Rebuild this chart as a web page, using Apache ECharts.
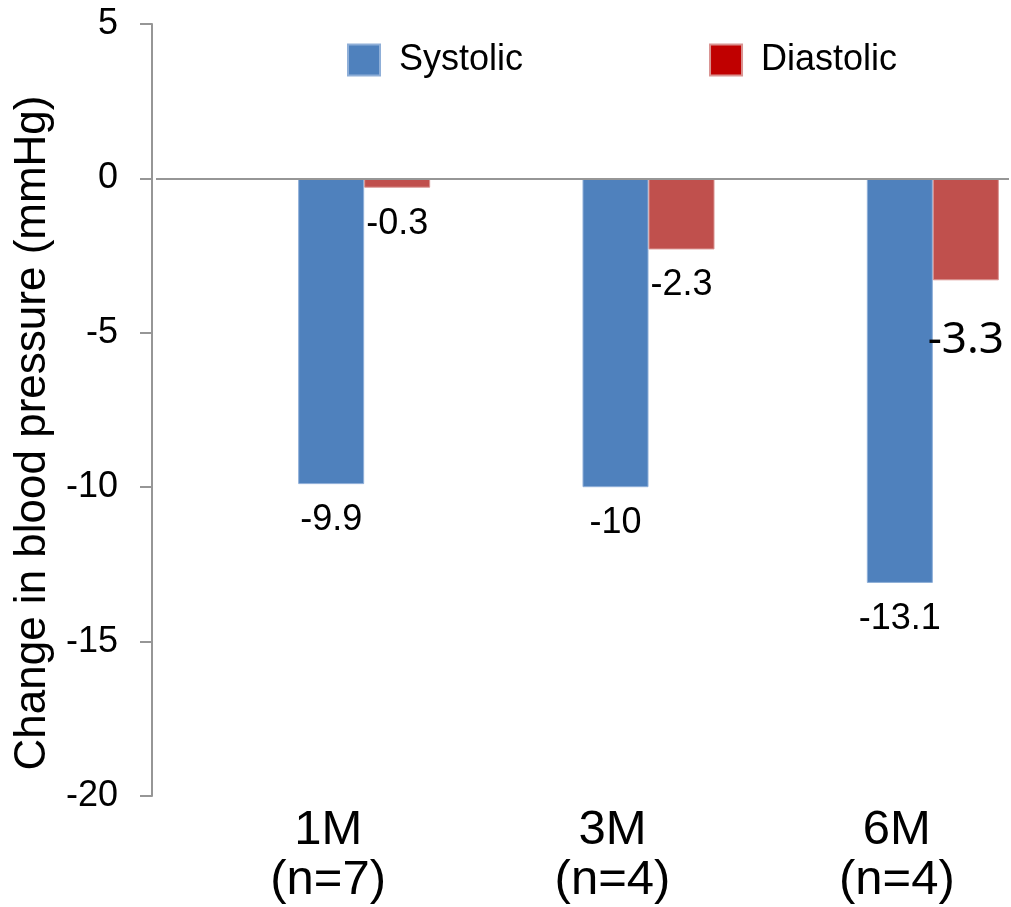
<!DOCTYPE html>
<html>
<head>
<meta charset="utf-8">
<script src="https://cdn.jsdelivr.net/npm/echarts@6/dist/echarts.min.js"></script>
<style>
html,body{margin:0;padding:0;background:#fff;}
#chart{width:1011px;height:907px;}
</style>
</head>
<body>
<div id="chart"></div>
<script>
const categories = ['1M', '3M', '6M'];
const sampleSizes = ['n=7', 'n=4', 'n=4'];
const systolic = [-9.9, -10, -13.1];
const diastolic = [-0.3, -2.3, -3.3];
const yTicks = { min: -20, max: 5, interval: 5 };

const FONT = '"Liberation Sans", Arial, sans-serif';
const chart = echarts.init(document.getElementById('chart'), null, { renderer: 'canvas' });

const baseLabel = {
  show: true,
  position: 'bottom',
  distance: 18,
  color: '#000',
  fontFamily: FONT,
  fontSize: 36,
  lineHeight: 36
};

const diastolicData = diastolic.map((v, i) => {
  if (i === 2) {
    return { value: v, label: { fontFamily: '"Noto Sans", sans-serif', fontSize: 44, lineHeight: 44, distance: 38 } };
  }
  return v;
});

const option = {
  backgroundColor: '#fff',
  animation: false,
  grid: { left: 156, right: 2, top: 24, bottom: 111, containLabel: false },
  legend: {
    left: 347,
    top: 42,
    padding: 0,
    itemWidth: 32,
    itemHeight: 31,
    itemGap: 186,
    icon: 'rect',
    textStyle: { fontFamily: FONT, fontSize: 36, color: '#000', padding: [0, 0, 0, 14] },
    data: [
      { name: 'Systolic', itemStyle: { color: '#4F81BD' } },
      { name: 'Diastolic', itemStyle: { color: '#C00000' } }
    ]
  },
  xAxis: {
    type: 'category',
    data: categories,
    axisLine: { show: false, onZero: false },
    axisTick: { show: false },
    axisLabel: {
      margin: 9,
      color: '#000',
      fontFamily: '"Liberation Sans Narrow", "Arial Narrow", ' + FONT,
      fontSize: 49,
      lineHeight: 50,
      padding: [0, 0, 0, 60],
      formatter: (c, i) => c + '\n(' + sampleSizes[i] + ')'
    }
  },
  yAxis: {
    type: 'value',
    min: yTicks.min,
    max: yTicks.max,
    interval: yTicks.interval,
    offset: 4,
    name: 'Change in blood pressure (mmHg)',
    nameLocation: 'middle',
    nameGap: 90,
    nameTextStyle: { fontFamily: FONT, fontSize: 44, color: '#000', padding: [0, 46, 0, 0] },
    axisLine: { show: true, lineStyle: { color: '#969696', width: 2 } },
    axisTick: { show: true, length: 12, lineStyle: { color: '#969696', width: 2 } },
    axisLabel: { margin: 34, color: '#000', fontFamily: FONT, fontSize: 36 },
    splitLine: { show: false }
  },
  series: [
    {
      name: '_spacer',
      type: 'bar',
      barWidth: 132,
      barGap: 0,
      data: [],
      silent: true
    },
    {
      name: 'Systolic',
      type: 'bar',
      barWidth: 66,
      barGap: 0,
      data: systolic,
      itemStyle: { color: '#4F81BD', borderColor: '#8FAFD8', borderWidth: 1 },
      label: baseLabel,
      markLine: {
        silent: true,
        symbol: 'none',
        label: { show: false },
        lineStyle: { color: '#969696', width: 2, type: 'solid' },
        data: [{ yAxis: 0 }]
      }
    },
    {
      name: 'Diastolic',
      type: 'bar',
      barWidth: 66,
      barGap: 0,
      data: diastolicData,
      itemStyle: { color: '#C0504D', borderColor: '#D99391', borderWidth: 1 },
      label: baseLabel
    }
  ]
};
chart.setOption(option);
</script>
</body>
</html>
